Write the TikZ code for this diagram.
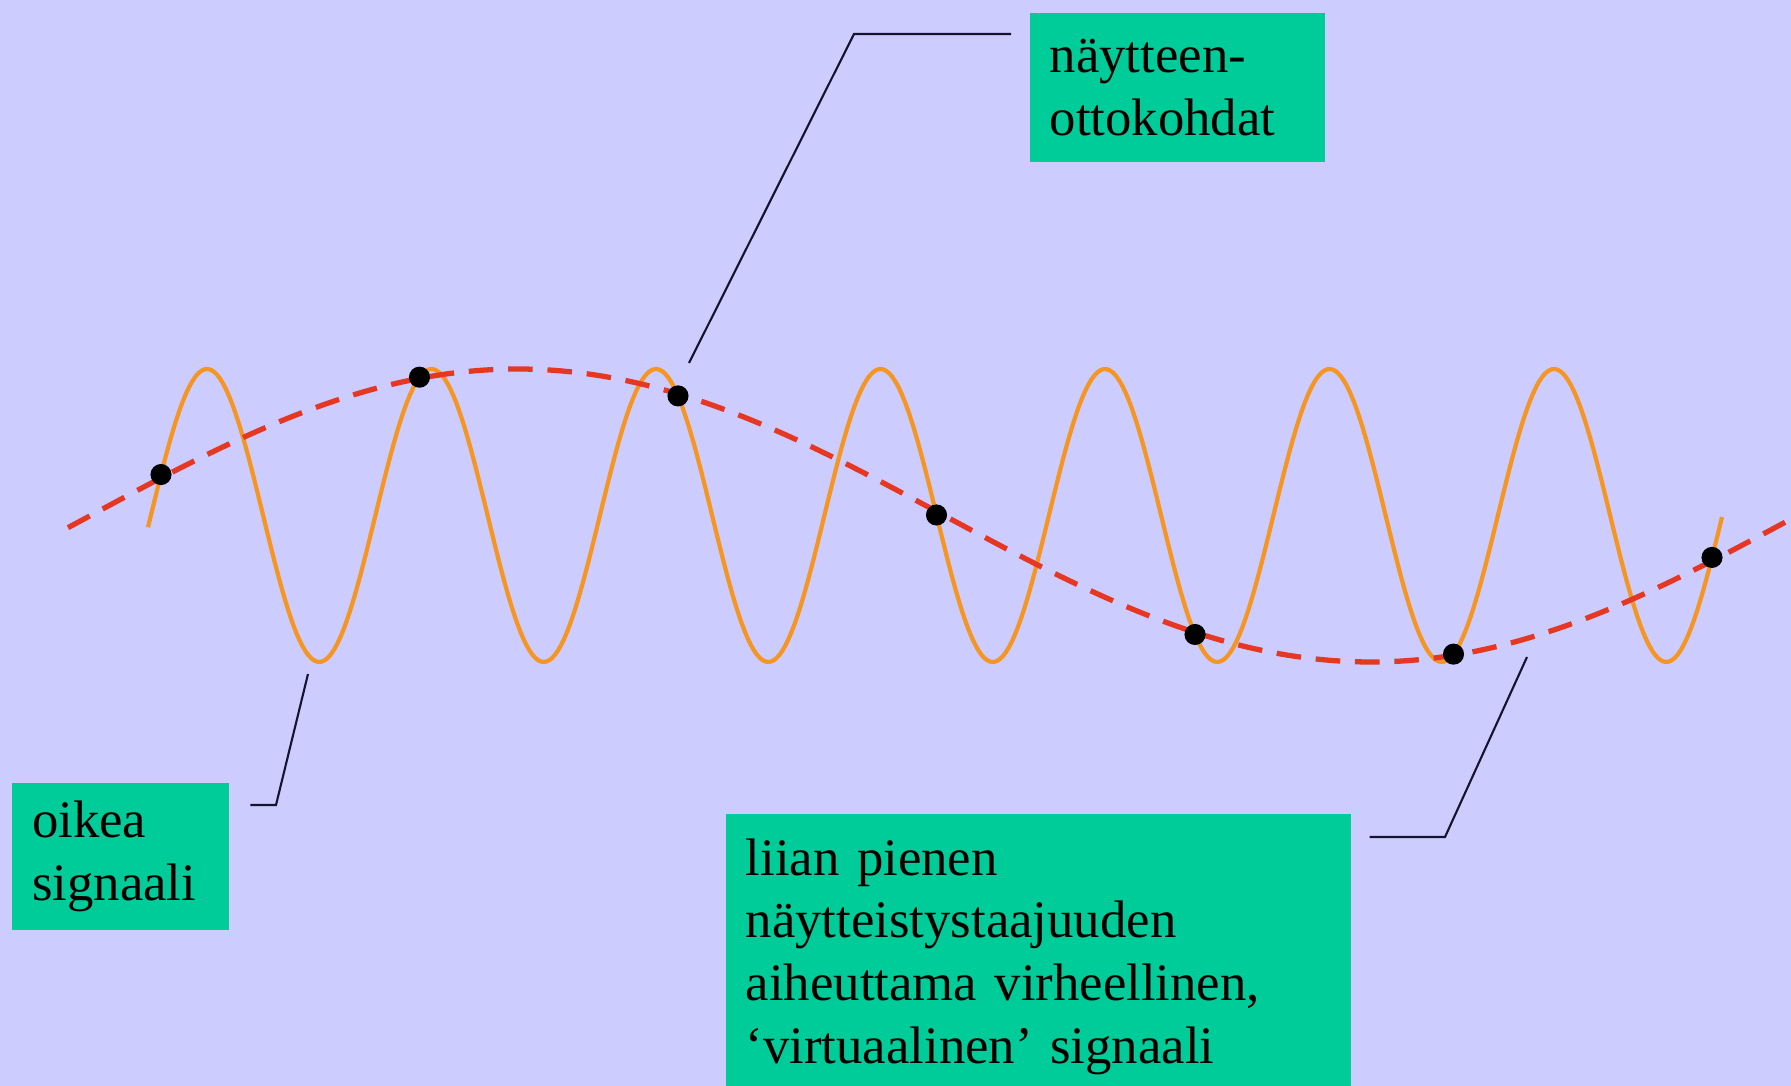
\documentclass[tikz,border=0pt]{standalone}
\usepackage{fontspec}
\setmainfont{Liberation Serif}
\usepackage{xcolor}
\definecolor{lilac}{RGB}{204,204,255}
\definecolor{mint}{RGB}{0,204,153}
\definecolor{amber}{RGB}{245,150,35}
\definecolor{brick}{RGB}{230,55,35}
\definecolor{ink}{RGB}{20,20,45}
\usepackage{tikz}
\usetikzlibrary{calc}
\tikzset{
  tag/.style={fill=mint, anchor=north west, align=left,
              inner xsep=5.7pt, inner ysep=0pt, text=black,
              font=\fontsize{15}{17.9}\selectfont},
  leader/.style={draw=ink, line width=0.6pt},
  smp/.style={circle, fill=black, inner sep=0pt, minimum size=6pt},
}

\begin{document}
\begin{tikzpicture}[x=0.01cm, y=-0.01cm]
  \def\cy{515.5}
  \def\amp{146.5}
  \useasboundingbox (0,0) rectangle (1791,1086);
  \fill[lilac] (0,0) rectangle (1791,1086);
  %% oikea signaali (jakso 224.5)
  \draw[amber, line width=1.2pt, samples=500, domain=148:1722]
    plot (\x, {\cy-\amp*cos((\x-207)/224.5*360)});
  %% virtuaalinen signaali (jakso 1707)
  \draw[brick, line width=1.5pt, dash pattern=on 7pt off 4.2pt,
        samples=200, domain=68:1791]
    plot (\x, {\cy-\amp*cos((\x-207)/1707*360-65.45)});
  %% naytteet, valein 258.5
  \foreach \k in {0,...,6} {
    \pgfmathsetmacro{\sx}{161+258.5*\k}
    \pgfmathsetmacro{\sy}{\cy-\amp*cos((\sx-207)/224.5*360)}
    \node[smp] (s\k) at (\sx,\sy) {};
  }
  %% laatikot
  \node[tag, minimum width=83.9pt, minimum height=42.2pt, text width=72.5pt]
    (ottokohdat) at (1029,12.6) {näytteen-\\ottokohdat};
  \node[tag, minimum width=61.7pt, minimum height=41.8pt, text width=50.3pt]
    (oikea) at (11.4,782) {oikea\\signaali};
  \node[tag, minimum width=177.8pt, minimum height=81.4pt, text width=166.4pt]
    (virhe) at (725,813)
    {liian pienen\\näytteistystaajuuden\\aiheuttama virheellinen,\\‘virtuaalinen’ signaali};
  %% viivat
  \coordinate (k1) at (854,34);
  \coordinate (t1) at (689,363);
  \coordinate (k2) at (276,805);
  \coordinate (t2) at (308,674);
  \coordinate (k3) at (1445,837);
  \coordinate (t3) at (1527,657);
  \draw[leader] ($(ottokohdat.north west)+(-18,21.4)$) -- (k1) -- (t1);
  \draw[leader] ($(oikea.north east)+(20.6,23)$) -- (k2) -- (t2);
  \draw[leader] ($(virhe.north east)+(18,24)$) -- (k3) -- (t3);
\end{tikzpicture}
\end{document}
